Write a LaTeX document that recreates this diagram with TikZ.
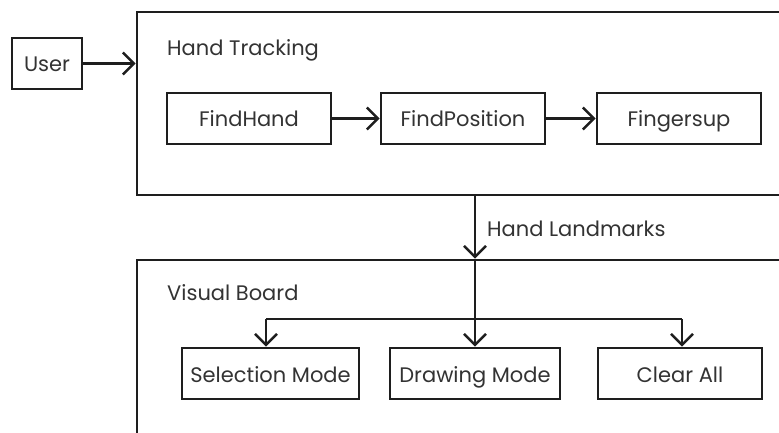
\documentclass[tikz,border=0pt]{standalone}
\usepackage{fontspec}
\setmainfont{Poppins}
\usetikzlibrary{arrows.meta}
\definecolor{ink}{HTML}{1E1E1E}
\definecolor{txt}{HTML}{333333}
\tikzset{
  x=1pt, y=-1pt,
  box/.style={draw=ink, line width=2.8pt, minimum height=51pt, inner sep=0pt, text=txt, font=\fontsize{21}{24}\selectfont, text height=17pt, text depth=0pt},
  container/.style={draw=ink, line width=2.8pt, inner sep=0pt},
  lbl/.style={text=txt, font=\fontsize{21}{24}\selectfont, anchor=west, inner sep=0pt, text height=17pt, text depth=0pt},
  arr/.style={draw=ink, line width=2.4pt, -{Straight Barb[length=11pt,width=22pt,line width=2.4pt]}},
  ln/.style={draw=ink, line width=2.4pt},
}
\begin{document}
\begin{tikzpicture}
\useasboundingbox (0,0) rectangle (779,433);
\clip (0,0) rectangle (779,433);
\fill[white] (0,0) rectangle (779,433);
% containers
\node[container, minimum width=663pt, minimum height=183pt] (ht) at (468.5,103.5) {};
\node[container, minimum width=663pt, minimum height=200pt] (vb) at (468.5,360) {};
\node[lbl] (htl) at (167,47) {Hand Tracking};
\node[lbl] (vbl) at (167,292) {Visual Board};
% nodes
\node[box, minimum width=70pt] (user) at (47,63.5) {User};
\node[box, minimum width=164pt] (fh) at (249,118.5) {FindHand};
\node[box, minimum width=164pt] (fp) at (463,118.5) {FindPosition};
\node[box, minimum width=164pt] (fu) at (679,118.5) {Fingersup};
\node[box, minimum width=177pt] (sel) at (270.5,373.5) {Selection Mode};
\node[box, minimum width=170pt] (dm) at (475,373.5) {Drawing Mode};
\node[box, minimum width=164pt] (ca) at (680,373.5) {Clear All};
% connectors
\draw[arr] (user.east) -- (user.east -| ht.west);
\draw[arr] (fh) -- (fp);
\draw[arr] (fp) -- (fu);
\coordinate (src) at (ht.south -| dm.north);
\coordinate (dst) at (vb.north -| dm.north);
\draw[arr] (src) -- node[lbl, right=11pt] (hl) {Hand Landmarks} (dst);
\draw[arr] (dst) -- (dm.north);
\coordinate (jl) at (266,319);
\coordinate (jr) at (682,319);
\draw[ln] (jl) -- (jr);
\draw[arr] (jl) -- (jl |- sel.north);
\draw[arr] (jr) -- (jr |- ca.north);
\end{tikzpicture}
\end{document}
